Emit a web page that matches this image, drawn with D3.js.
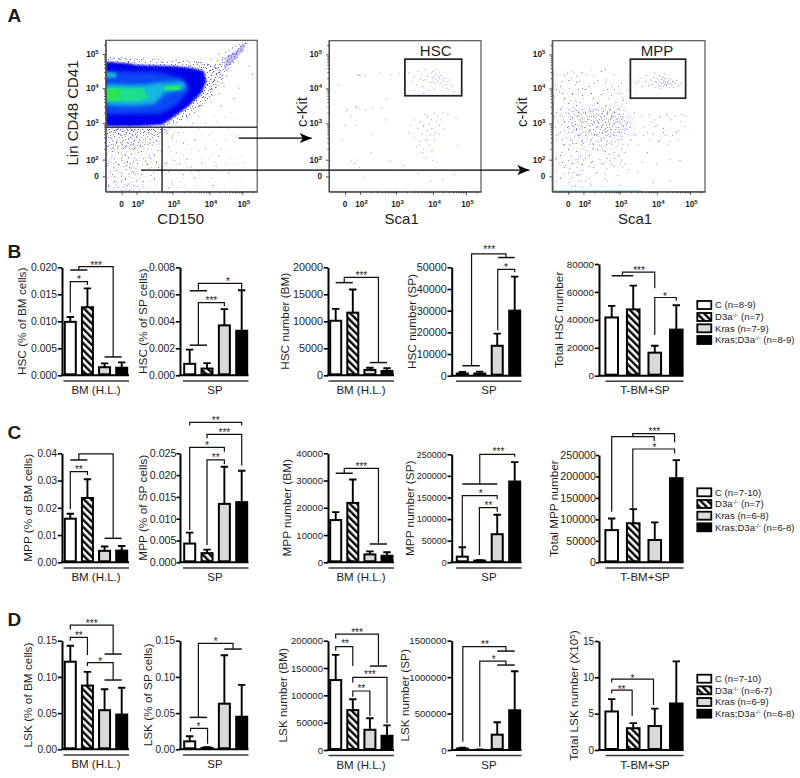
<!DOCTYPE html>
<html><head><meta charset="utf-8">
<script src="https://cdnjs.cloudflare.com/ajax/libs/d3/7.8.5/d3.min.js"></script>
<style>html,body{margin:0;background:#fff}svg{display:block}text{font-family:"Liberation Sans",Arial,sans-serif;fill:#1c1c1c}</style>
</head><body><div id="chart"></div>
<script>
// ---------- bar values (mean, upper error bar) for C, D3a-/-, Kras, Kras;D3a-/- ----------
const hscBmPct=[0.0099,0.0126,0.0015,0.0014], hscBmPctErr=[0.0108,0.0161,0.0022,0.0024];
const hscSpPct=[0.00085,0.0005,0.0037,0.0033], hscSpPctErr=[0.0019,0.0009,0.0049,0.0063];
const hscBmNum=[10100,11600,1000,800], hscBmNumErr=[12300,15900,1400,1300];
const hscSpNum=[1000,1000,13800,30000], hscSpNumErr=[1700,1900,19400,45700];
const hscTotal=[41700,47500,16500,33000], hscTotalErr=[50000,64500,21500,50500];
const mppBmPct=[0.016,0.0236,0.0042,0.0043], mppBmPctErr=[0.0178,0.0305,0.0058,0.006];
const mppSpPct=[0.0043,0.0021,0.0134,0.0138], mppSpPctErr=[0.0068,0.0029,0.0219,0.021];
const mppBmNum=[15500,21800,2900,2400], mppBmNumErr=[18400,30400,4000,3700];
const mppSpNum=[13000,4000,65000,187000], mppSpNumErr=[35000,5000,110000,232000];
const mppTotal=[75000,91000,52000,196000], mppTotalErr=[102000,124000,93000,238000];
const lskBmPct=[0.121,0.088,0.054,0.048], lskBmPctErr=[0.143,0.107,0.083,0.085];
const lskSpPct=[0.011,0.002,0.063,0.045], lskSpPctErr=[0.018,0.003,0.13,0.089];
const lskBmNum=[128000,73000,37000,26000], lskBmNumErr=[174000,93000,58000,45000];
const lskSpNum=[20000,5000,210000,545000], lskSpNumErr=[30000,8000,380000,1080000];
const lskTotal=[5.3,3.0,3.3,6.4], lskTotalErr=[7.0,3.7,5.7,12.2];

// ---------- tick labels ----------
const ticksHscBmPct=[0,0.005,0.01,0.015,0.02], ticksHscSpPct=[0,0.002,0.004,0.006,0.008];
const ticksHscBmNum=[0,5000,10000,15000,20000], ticksHscSpNum=[0,10000,20000,30000,40000,50000];
const ticksHscTotal=[0,20000,40000,60000,80000];
const ticksMppBmPct=[0,0.01,0.02,0.03,0.04], ticksMppSpPct=[0,0.005,0.01,0.015,0.02,0.025];
const ticksMppBmNum=[0,10000,20000,30000,40000], ticksMppSpNum=[0,50000,100000,150000,200000,250000];
const ticksMppTotal=[0,50000,100000,150000,200000,250000];
const ticksLskPct=[0,0.05,0.1,0.15], ticksLskBmNum=[0,50000,100000,150000,200000];
const ticksLskSpNum=[0,500000,1000000,1500000], ticksLskTotal=[0,5,10,15];

// ---------- legends ----------
const legendB=["C (n=8-9)","D3a^{-/-} (n=7)","Kras (n=7-9)","Kras;D3a^{-/-} (n=8-9)"];
const legendC=["C (n=7-10)","D3a^{-/-} (n=7)","Kras (n=6-8)","Kras;D3a^{-/-} (n=6-8)"];
const legendD=["C (n=7-10)","D3a^{-/-} (n=6-7)","Kras (n=6-9)","Kras;D3a^{-/-} (n=6-8)"];

// ---------- significance brackets: polylines as [bar slot, fraction of axis height] ----------
const linesB1=[[[0,.58],[0,.867],[1,.867],[1,.836]],[[0,.975],[1,.975]],[[.5,.975],[.5,1.006],[2.5,1.006],[2.5,.17]],[[2,.17],[3,.17]]];
const starsB1=[["*",.5,.907],["***",1.5,1.037]];
const linesB2=[[[0,.783],[1,.783]],[[.5,.783],[.5,.851],[3,.851],[3,.79]],[[0,.279],[1,.279]],[[.5,.279],[.5,.672],[2,.672],[2,.64]]];
const starsB2=[["*",2.2,.892],["***",1.25,.712]];
const linesB3=[[[0,.858],[1,.858]],[[.5,.858],[.5,.907],[2.5,.907],[2.5,.118]],[[2,.118],[3,.118]]];
const starsB3=[["***",1.5,.944]];
const linesB4=[[[0,.092],[1,.092]],[[.53,.092],[.53,1.123],[2.5,1.123],[2.5,1.09]],[[2.05,1.09],[3,1.09]],[[2.03,.42],[2.03,.98],[3,.98],[3,.954]]];
const starsB4=[["***",1.54,1.185],["*",2.5,1.02]];
const linesB5=[[[0,.895],[1,.895]],[[.5,.895],[.5,.928],[2,.928],[2,.782]],[[2,.364],[2,.7],[3,.7],[3,.672]]];
const starsB5=[["***",1.27,.961],["*",2.47,.728]];
const linesC1=[[[0,.489],[0,.832],[1,.832],[1,.8]],[[0,.939],[1,.939]],[[.5,.939],[.5,.994],[2.5,.994],[2.5,.22]],[[2,.22],[3,.22]]];
const starsC1=[["**",.5,.875]];
const linesC2=[[[0,1.254],[0,1.284],[3,1.284],[3,1.254]],[[1,1.138],[1,1.174],[3,1.174],[3,.887]],[[0,.297],[0,1.055],[2,1.055],[2,1.015]],[[1,.159],[1,.939],[2,.939],[2,.9]]];
const starsC2=[["**",1.5,1.32],["***",2,1.21],["*",1,1.09],["**",1.5,.979]];
const linesC3=[[[0,.817],[1,.817]],[[.5,.817],[.5,.862],[2.5,.862],[2.5,.168]],[[2,.168],[3,.168]]];
const starsC3=[["***",1.5,.9]];
const linesC4=[[[0,.725],[2,.725]],[[1,.725],[1,1],[3,1],[3,.978]],[[0,.145],[0,.617],[2,.617],[2,.583]],[[.98,.068],[.98,.506],[2,.506],[2,.469]]];
const starsC4=[["***",2.07,1.046],["*",1.05,.654],["**",1.5,.543]];
const linesC5=[[[0,.472],[0,1.171],[1.97,1.171],[1.97,1.13]],[[.98,1.171],[.98,1.2],[2.92,1.2],[2.92,1.118]],[[.98,.503],[.98,1.056],[2.92,1.056],[2.92,1.015]]];
const starsC5=[["***",1.98,1.24],["*",1.98,1.09]];
const linesD1=[[[0,1.104],[0,1.144],[2.5,1.144],[2.5,.877]],[[2,.877],[3,.877]],[[0,1],[0,1.03],[1,1.03],[1,.868]],[[1,.767],[1,.798],[2.5,.798],[2.5,.638]],[[2,.638],[3,.638]]];
const starsD1=[["***",1.25,1.18],["**",.5,1.067],["*",1.75,.831]];
const linesD2=[[[0,.294],[1,.294]],[[.5,.294],[.5,.975],[2.5,.975],[2.5,.923]],[[2,.923],[3,.923]],[[.05,.163],[.05,.193],[1.03,.193],[1.03,.05]]];
const starsD2=[["*",1.5,1.012],["*",.5,.233]];
const linesD3=[[[0,1.02],[0,1.06],[2.5,1.06],[2.5,.768]],[[2,.768],[3,.768]],[[0,.908],[0,.945],[1,.945],[1,.768]],[[1,.616],[1,.665],[3,.665],[3,.244]],[[1,.488],[1,.54],[2,.54],[2,.311]]];
const starsD3=[["***",1.25,1.097],["**",.55,.997],["***",2,.707],["**",1.5,.579]];
const linesD4=[[[.03,.076],[.03,.945],[2.5,.945],[2.5,.905]],[[2,.905],[3,.905]],[[1,.03],[1,.814],[2.5,.814],[2.5,.777]],[[2,.777],[3,.777]]];
const starsD4=[["**",1.3,.985],["*",1.8,.848]];
const linesD5=[[[0,.52],[0,.55],[.95,.55],[.95,.312]],[[0,.62],[0,.651],[1.94,.651],[1.94,.413]]];
const starsD5=[["**",.46,.575],["*",.96,.679]];

// ---------- flow cytometry events: [Sca1/CD150 decade, c-Kit/Lin decade] ----------
const gateDots=[[-.9,2.7],[-.7,2.6],[-.5,2.75],[-.3,2.5],[-.1,2.7],[.1,2.6],[.3,2.78],[.5,2.55],[.7,2.7],[.9,2.45],[1.1,2.72],[1.3,2.6],[1.5,2.8],[1.7,2.5],[1.9,2.7],[2.1,2.78],[2.2,2.55],[2.35,2.7],[2.5,2.8],[2.6,2.62],[-.85,2.82],[-.6,2.85],[-.35,2.8],[-.2,2.85],[.2,2.84],[.45,2.8],[.65,2.85],[.85,2.8],[1.2,2.84],[1.4,2.7],[1.6,2.65],[1.8,2.82],[2,2.6],[2.3,2.83],[-.8,2.4],[-.55,2.3],[-.25,2.35],[0,2.45],[.25,2.3],[.6,2.35],[1,2.3],[1.35,2.4],[1.75,2.3],[2.1,2.4],[2.45,2.4],[2.7,2.5],[2.85,2.72],[3,2.6],[3.15,2.75],
[-.9,2.15],[-.6,2.1],[-.2,2.2],[.15,2.1],[.5,2.15],[.9,2.05],[1.3,2.15],[1.7,2.05],[2.05,2.2],[2.35,2.1],[2.6,2.25],[2.9,2.35],[3.1,2.2],[3.3,2.45],[3.6,2.55],[3.9,2.3],[4.3,2.1],[-.8,1.8],[-.4,1.7],[0,1.85],[.4,1.6],[.8,1.75],[1.2,1.5],[1.6,1.8],[1.95,1.95],[2.25,1.85],[2.55,1.7],[3.05,1.9],[3.4,2],[3.8,1.6],[-.9,1.3],[-.5,1.1],[-.15,1.4],[.3,1.2],[.7,1.3],[1.1,1],[1.5,1.2],[1.9,.9],[2.3,1.4],[2.6,.8],[3.2,1.5],[3.5,1.1],[4.2,1.3],[-.7,.5],[-.3,.7],[.1,.4],[.55,.8],[1,.3],[1.4,.6],[1.8,.2],[2.4,.1],[2.9,.5],[3.3,.2],[3.7,.6],[4.6,.4],[-.85,-.1],[-.45,0],[0,.05],[.5,-.2],[1.25,-.1],[2,-.3],[2.5,-.2],[3,-.5],[3.6,-.1],[-.8,-.6],[-.3,-.5],[.3,-.7],[.9,-.5],[1.6,-.6],[2.2,-.7],[2.9,-.75],[4.1,-.6],
[-.95,-.97],[-.85,-.97],[-.75,-.98],[-.65,-.96],[-.55,-.97],[-.45,-.98],[-.35,-.95],[-.25,-.98],[-.15,-.97],[-.05,-.96],[.05,-.98],[.15,-.95],[.3,-.97],[.45,-.98],[.6,-.96],[.8,-.97],[1,-.98],[1.2,-.96],[1.5,-.97],[1.8,-.98],[2.1,-.96],[2.5,-.97],[3.1,-.98],
[-.98,-.7],[-.98,-.4],[-.98,-.1],[-.98,.3],[-.98,.7],[-.98,1.1],[-.98,1.5],[-.98,1.9],[-.98,2.3],[3.55,3.0],[3.7,3.2],[4.05,3.6],[4.3,3.85],[4.45,4.05],[5.2,4.65],[3.9,3],[4.35,3.5]];
const tailDots=[[3.95,4.7],[4.05,4.85],[4.2,4.6],[4.1,4.45],[4,4.2],[4.15,4.25],[4.25,4.8],[4.3,5],[4.35,4.7],[4.4,4.9],[4.5,5.05],[4.55,4.8],[4.6,5.1],[4.7,5.2],[4.75,5],[4.8,5.25],[4.85,5.1],[4.9,5.3],[4.95,5.15],[5,5.3],[5.05,5.25],[5.1,5.35],[4.65,4.95],[4.45,4.75],[4.3,4.5],[4.2,4.1],[4.1,3.95],[3.95,3.85],[3.85,3.75],[4.05,4.05],[3.75,3.5],[3.6,3.3],[3.4,3.15],[3.9,4.6],[4.25,4.35],[4.15,4.65],[4.35,4.4],[4.5,4.55],[4.4,4.15],[4.75,3.7],[4.9,4.0],[5.3,4.4],[3.7,4.75],[3.4,4.8],[3.1,4.82],[2.6,4.85],[2.2,4.88],[1.7,4.82],[1.1,4.85],[.6,4.83],[0,4.9],[-.6,4.85],[3.8,4.7],[4.6,4.7],[4.7,4.8],[5,5.1],[4.85,4.9],[4.52,4.35]];
const hscDots=[[3.35,4.45],[3.45,4.2],[3.5,4.35],[3.55,4.1],[3.6,4.5],[3.65,4.28],[3.7,4.4],[3.72,4.05],[3.78,4.25],[3.8,4.55],[3.85,4.35],[3.88,3.95],[3.9,4.18],[3.95,4.45],[3.98,4.3],[4,4.2],[4,4.5],[4.03,4.35],[4.06,4.15],[4.08,4.28],[4.1,4.42],[4.12,4.55],[4.14,4.22],[4.17,4.35],[4.2,4.3],[4.2,4.48],[4.22,4.15],[4.25,4.38],[4.28,4.25],[4.3,4.05],[4.33,4.2],[4.36,4.3],[4.4,4.12],[4.42,4.0],[4.45,4.2],[4.48,3.95],[4.52,4.25],[4.55,4.1],[4.6,4.05],[4.65,3.9],[3.5,3.95],[4.05,3.98],[3.75,3.85],
[1.7,4.4],[1.85,4.38],[2,4.4],[2.15,4.37],[2.55,4.45],[2.85,4.4],[3.1,4.42],[-.4,4.1],[2.75,3.7],[.1,3.35],[.3,3.4],[1.4,3.45],[1.6,3.48],[1.85,3.42],[2.15,3.38],[2.35,3.42],[2.6,3.45],[.85,3.2],[1.45,2.95],[.0,2.95],[2.35,2.7],[2.7,3.1],[4.45,3.25],[4.7,3.15],
[3.35,2.75],[3.4,2.95],[3.5,2.6],[3.5,3.1],[3.55,2.35],[3.6,2.85],[3.65,3.05],[3.65,2.5],[3.7,2.7],[3.72,2.2],[3.75,2.95],[3.78,3.25],[3.8,2.55],[3.82,2.05],[3.85,2.8],[3.85,3.2],[3.9,2.4],[3.9,2.98],[3.93,2.68],[3.96,3.1],[3.98,2.25],[4,2.85],[4,1.95],[4.03,3.28],[4.05,2.55],[4.07,2.75],[4.1,3.05],[4.12,1.75],[4.14,3.22],[4.18,2.7],[4.2,2.95],[4.25,3.1],[4.3,3.3],[4.33,2.85],
[-.2,2.55],[.8,1.85],[1.25,1.55],[1.6,1.95],[2.3,2.2],[2.85,1.8],[3.2,1.3],[4.75,2.4],[1.9,1.1],[3.6,.35],[4.3,-.2],[3.95,-.3],[3,.7],[4.65,.2],[2.1,-.1],
[2.5,-.95],[2.7,-.97],[3,-.96],[3.3,-.97],[3.5,-.95],[3.65,-.97],[3.8,-.96],[3.95,-.97],[4.05,-.96],[4.2,-.97],[4.4,-.96],[4.7,-.97],[-.98,3.1],[-.98,3.3],[-.98,3.55],[-.98,3.8],[-.98,2.9],[-.98,4.1]];
const mppDots=[[3.45,4.15],[3.55,4.3],[3.6,4.05],[3.7,4.2],[3.72,4.38],[3.78,4.08],[3.85,4.25],[3.88,4.12],[3.92,4.32],[3.95,4.02],[4,4.18],[4.02,4.28],[4.05,4.1],[4.08,4.36],[4.1,4.2],[4.12,4],[4.14,4.26],[4.15,4.14],[4.18,4.32],[4.2,4.18],[4.2,4.06],[4.22,4.24],[4.24,4.12],[4.26,4.18],[4.28,4.3],[4.3,4.08],[4.32,4.2],[4.34,4.14],[4.36,4.24],[4.38,4.02],[4.4,4.16],[4.42,4.28],[4.45,4.1],[4.48,4.2],[4.5,4.02],[4.55,4.16],[4.6,4.24],[4.65,4.08],[4.72,4.15],[3.5,4.2],[3.95,4.45],[4.25,4.42],
[2,3.3],[2.05,3.05],[2.1,3.2],[2.15,2.8],[2.2,3.35],[2.22,3],[2.28,3.18],[2.3,2.7],[2.35,3.4],[2.38,3.08],[2.4,2.9],[2.42,3.25],[2.48,2.6],[2.5,3.12],[2.52,2.95],[2.55,3.35],[2.58,3.2],[2.6,2.78],[2.62,3.02],[2.65,2.5],[2.66,3.28],[2.7,3.1],[2.72,2.88],[2.75,3.4],[2.76,2.65],[2.8,3.18],[2.82,3],[2.85,2.75],[2.86,3.3],[2.9,2.9],[2.92,3.12],[2.95,2.55],[2.96,3.05],[3,2.82],[3,3.25],[3.05,2.98],[3.08,2.65],[3.1,3.15],[3.15,2.85],[3.2,3.02],[3.22,2.4],[1.8,3.15],[1.82,2.9],[1.85,3.4],[1.9,3.05],[1.95,2.75],[1.7,3.25],[1.72,2.95],[1.6,3.1],[1.62,2.7],[1.5,3.3],[1.55,2.85],
[2.45,2.4],[2.55,2.25],[2.62,2.38],[2.7,2.15],[2.78,2.42],[2.85,2.2],[2.9,2.35],[3,2.1],[3.05,2.3],[3.15,2.2],[2.25,2.3],[2.2,2.5],[2.1,2.25],[2,2.45],[1.9,2.3],[1.85,2.55],[1.75,2.4],[3.3,2.55],[3.3,2.9],[3.4,2.7],
[-.85,3.2],[-.8,2.9],[-.7,3.4],[-.65,3.05],[-.6,2.7],[-.5,3.25],[-.45,2.95],[-.4,3.45],[-.3,3.1],[-.25,2.8],[-.15,3.3],[-.1,2.6],[0,3.05],[.05,3.4],[.1,2.85],[.2,3.2],[.25,2.55],[.35,3.35],[.4,3],[.45,2.75],[.55,3.15],[.65,3.45],[.7,2.9],[.8,3.25],[.85,2.65],[.95,3.05],[1,3.4],[1.05,2.8],[1.15,3.2],[1.2,2.95],[1.3,3.35],[1.35,2.6],[1.4,3.1],[-.75,2.55],[-.3,2.4],[.15,2.4],[.6,2.45],[1.1,2.45],
[-.7,4.4],[-.55,3.9],[-.4,4.2],[-.2,3.7],[-.05,4.45],[.1,4],[.25,3.65],[.4,4.3],[.55,3.85],[.75,4.45],[.9,4.1],[1,3.65],[1.15,4.35],[1.3,3.9],[1.45,4.2],[1.6,3.6],[1.7,4.45],[1.85,4],[1.95,3.7],[2.1,4.4],[2.2,3.85],[2.3,4.15],[2.4,3.6],[2.5,4.5],[2.55,3.95],[2.65,4.25],[2.7,3.7],[2.8,4.05],[2.85,4.4],[2.9,3.6],[2.95,3.85],[3.05,4.15],[3.1,3.65],[3.2,3.95],[3.25,4.4],[2.6,4.55],[-.85,3.75],[-.8,4.1],
[-.8,2],[-.6,1.6],[-.4,2.2],[-.2,1.3],[0,1.9],[.2,.9],[.4,2.1],[.6,1.5],[.8,.5],[1,2],[1.15,1.1],[1.3,1.7],[1.45,.2],[1.6,2.1],[1.75,1.4],[1.9,.7],[2,1.95],[2.15,1.2],[2.25,1.75],[2.35,.4],[2.45,2],[2.55,1.5],[2.65,.9],[2.75,1.85],[2.85,1.2],[2.95,.1],[3.05,1.95],[3.15,1.5],[3.25,.8],[-.7,.6],[-.5,-.1],[-.25,.3],[.1,-.4],[.5,-.1],[.95,-.6],[1.25,.1],[1.7,-.3],[2.2,-.5],[2.6,-.2],[3,-.6],[3.5,.5],[3.9,-.4],[4.4,-.3],
[3.4,3.3],[3.5,2.4],[3.6,3.2],[3.65,2.9],[3.75,2.2],[3.8,3.25],[3.9,2.7],[3.95,3.1],[4,2.95],[4.05,2.5],[4.1,3.2],[4.2,2.75],[4.3,3.25],[4.35,2.4],[4.45,3.1],[4.55,3.22],[4.65,2.8],[4.75,3.25],[4.85,3.2],[3.6,1.7],[4,1.5],[4.4,2],[4.7,1.9]];

// ---------- density regions of the flow plots: outlines in decades ----------
const cloudGate=[[-1,4.78],[1,4.72],[2,4.68],[3,4.65],[3.5,4.6],[3.85,4.5],[3.92,4.2],[3.8,3.88],[3.45,3.5],[3,3.15],[2.7,2.96],[2,2.92],[-1,2.92]];
const cloudTail=[[3.85,4.6],[4.2,4.75],[4.6,5.02],[5,5.3],[5.2,5.42],[5,5.1],[4.65,4.6],[4.4,4.2],[4.1,3.9],[3.8,3.85]];
const cloudTailCore=[[4.5,4.9],[4.8,5.1],[5.1,5.38],[5.05,5.15],[4.7,4.75],[4.45,4.55]];
const cloudFringe=[[-1,4.92],[2,4.86],[3.4,4.8],[4,4.75],[4.3,4.3],[4.1,3.78],[3.6,3.3],[3,2.95],[2.7,2.78],[1,2.7],[-1,2.7]];
const cloudMid=[[-1,4.5],[2.6,4.47],[3.25,4.3],[3.45,3.95],[3.15,3.55],[2.7,3.28],[-1,3.25]];
const cloudCyanTop=[[-1,4.48],[-.3,4.45],[-.35,4.3],[-1,4.28]];
const cloudCyan=[[-1,4.12],[.8,4.1],[2.2,4.1],[2.6,4.16],[3.3,4.2],[3.4,3.98],[2.8,3.86],[2.5,3.55],[2,3.5],[-1,3.52]];
const cloudGreen=[[-1,4.02],[.8,4.0],[2.2,4],[2.32,3.72],[1.8,3.62],[-1,3.64]];
const cloudGreenSpot=[[2.78,4.06],[3.2,4.08],[3.22,3.95],[2.8,3.93]];
const cloudLime=[[-1,3.96],[-.15,3.95],[-.1,3.68],[-1,3.68]];
const belowGateBand=[[-1,2.9],[2.95,2.9],[2.6,2.45],[1.5,2.3],[-1,2.3]];
const belowGateArea=[[-1,2.4],[2.7,2.4],[3,1.5],[2.4,0],[2,-1],[-1,-1]];
const farRightArea=[[2.7,2.9],[4.8,3.4],[5.2,1.5],[4.8,-1],[2,-1]];
// stippled haze: [centre in decades, radii in decades, stipple tile]
const hazeMpp=[[[2.65,3.0],[.85,.62],2],[[2.4,2.9],[1.1,.8],1],[[.4,3.05],[1.45,.45],1],[[1.5,3.9],[2.2,.8],0],[[1.4,1.5],[2.2,1.3],0],[[1.0,3],[2.6,1.6],0],[[4.15,4.17],[.5,.17],1],[[4.2,2.8],[.95,.5],0]];
const hazeHsc=[[[3.95,4.25],[.55,.24],0],[[3.85,2.65],[.38,.65],0]];
// repeating dot tiles for the stipple: tile size, then dots
const tileSparse=[29,23,[[2,3],[9,17],[13,6],[21,2],[25,13],[5,20],[17,11],[27,20],[11,1]]];
const tileMid=[17,19,[[1,2],[6,13],[9,5],[14,10],[3,8],[12,16],[16,1],[7,18],[11,11],[15,15]]];
const tileDense=[11,13,[[1,1],[4,6],[8,3],[2,10],[7,9],[10,12],[5,2],[9,7],[0,5],[6,12],[3,4]]];
// gates and axis ticks of the flow plots
const flowTicks=[0,2,3,4,5];
const hscGate=[3.24,4.87,3.79,4.86], mppGate=[3.29,4.87,3.72,4.86];
const lineageCut=2.89, cd150Cut=2.71;
const upperArrow=[4.89,2.59], lowerArrow=[2.12,.75];

// ---------- layout (positions, sizes, styles) ----------
const W=800,H=778;
const svg=d3.select("#chart").append("svg").attr("width",W).attr("height",H).attr("viewBox",[0,0,W,H]);
const defs=svg.append("defs");
const hp=defs.append("pattern").attr("id","hatch").attr("patternUnits","userSpaceOnUse").attr("width",5).attr("height",5).attr("patternTransform","rotate(-45)");
hp.append("rect").attr("width",5).attr("height",5).attr("fill","#fff");
hp.append("rect").attr("width",2.4).attr("height",5).attr("fill","#000");
[["b2",2.2],["b1",.9],["b05",.5]].forEach(([id,s])=>defs.append("filter").attr("id",id).attr("x","-20%").attr("y","-20%").attr("width","140%").attr("height","140%").append("feGaussianBlur").attr("stdDeviation",s));
[tileSparse,tileMid,tileDense].forEach(([w,h,pts],i)=>{
  const p=defs.append("pattern").attr("id","st"+i).attr("patternUnits","userSpaceOnUse").attr("width",w).attr("height",h);
  p.selectAll("rect").data(pts).join("rect").attr("x",d=>d[0]).attr("y",d=>d[1]).attr("width",1).attr("height",1).attr("fill","#4c4ce8");
});
const fade=defs.append("radialGradient").attr("id","fade");
[[0,1],[.65,.85],[1,0]].forEach(([o,a])=>fade.append("stop").attr("offset",o).attr("stop-color","#fff").attr("stop-opacity",a));

function rich(sel,str,supSize){
  let nextDy=null;
  str.split(/(\^\{[^}]*\})/).forEach(tok=>{
    if(tok.startsWith("^{")) { sel.append("tspan").attr("dy",-3).attr("font-size",supSize).text(tok.slice(2,-1)); nextDy=3; }
    else if(tok){ const t=sel.append("tspan").text(tok); if(nextDy){t.attr("dy",nextDy);nextDy=null;} }
  });
}
const fills=["#fff","url(#hatch)","#d9d9d9","#000"];

const colX=[{ax:62,c0:70.3,c3:121.7,bw:11,ulL:63.5,ulR:129,lab:96},{ax:180,c0:189.7,c3:241.7,bw:11,ulL:183,ulR:248.5,lab:215},{ax:328,c0:335.7,c3:387,bw:11,ulL:328.5,ulR:394,lab:361},{ax:451.7,c0:462.3,c3:514.7,bw:11,ulL:456,ulR:521.5,lab:489},{ax:599,c0:611.7,c3:676.3,bw:12.6,ulL:605.5,ulR:683.5,lab:645}];
const charts=[
 {col:0,top:267.3,bot:375.3,v:hscBmPct,e:hscBmPctErr,t:ticksHscBmPct,f:".3f",fs:10.4,lx:21.7,y:"HSC (% of BM cells)",x:"BM (H.L.)",l:linesB1,s:starsB1},
 {col:1,top:267.3,bot:375.3,v:hscSpPct,e:hscSpPctErr,t:ticksHscSpPct,f:".3f",fs:10.4,lx:142.7,y:"HSC (% of SP cells)",x:"SP",l:linesB2,s:starsB2},
 {col:2,top:267.3,bot:375.3,v:hscBmNum,e:hscBmNumErr,t:ticksHscBmNum,f:"d",fs:10.8,lx:285,y:"HSC number  (BM)",x:"BM (H.L.)",l:linesB3,s:starsB3},
 {col:3,top:267.3,bot:375.7,v:hscSpNum,e:hscSpNumErr,t:ticksHscSpNum,f:"d",fs:10.8,lx:411.7,y:"HSC number (SP)",x:"SP",l:linesB4,s:starsB4},
 {col:4,top:264,bot:375.7,v:hscTotal,e:hscTotalErr,t:ticksHscTotal,f:"d",fs:9.8,lx:558.5,y:"Total HSC number",x:"T-BM+SP",l:linesB5,s:starsB5},
 {col:0,top:453.3,bot:562.3,v:mppBmPct,e:mppBmPctErr,t:ticksMppBmPct,f:".2f",fs:10,lx:28.3,y:"MPP (% of BM cells)",x:"BM (H.L.)",l:linesC1,s:starsC1},
 {col:1,top:453.3,bot:562.3,v:mppSpPct,e:mppSpPctErr,t:ticksMppSpPct,f:".3f",fs:10.7,lx:143,ts:3.5,tp:0,y:"MPP (% of SP cells)",x:"SP",l:linesC2,s:starsC2},
 {col:2,top:453.3,bot:562.3,v:mppBmNum,e:mppBmNumErr,t:ticksMppBmNum,f:"d",fs:9.6,lx:287,y:"MPP number  (BM)",x:"BM (H.L.)",l:linesC3,s:starsC3},
 {col:3,top:454.3,bot:562.3,v:mppSpNum,e:mppSpNumErr,t:ticksMppSpNum,f:"d",fs:9,lx:410,y:"MPP number (SP)",x:"SP",l:linesC4,s:starsC4},
 {col:4,top:455,bot:562.3,v:mppTotal,e:mppTotalErr,t:ticksMppTotal,f:"d",fs:10.7,lx:553.5,ts:3,tp:0,y:"Total MPP number",x:"T-BM+SP",l:linesC5,s:starsC5},
 {col:0,top:640.7,bot:749.3,v:lskBmPct,e:lskBmPctErr,t:ticksLskPct,f:".2f",fs:10,lx:28,y:"LSK (% of BM cells)",x:"BM (H.L.)",l:linesD1,s:starsD1},
 {col:1,top:640.7,bot:749.3,v:lskSpPct,e:lskSpPctErr,t:ticksLskPct,f:".2f",fs:10,lx:147.7,y:"LSK (% of SP cells)",x:"SP",l:linesD2,s:starsD2},
 {col:2,top:640.7,bot:750,v:lskBmNum,e:lskBmNumErr,t:ticksLskBmNum,f:"d",fs:9.6,lx:282.7,y:"LSK number  (BM)",x:"BM (H.L.)",l:linesD3,s:starsD3},
 {col:3,top:640.7,bot:750,v:lskSpNum,e:lskSpNumErr,t:ticksLskSpNum,f:"d",fs:9.6,lx:405,y:"LSK number (SP)",x:"SP",l:linesD4,s:starsD4},
 {col:4,top:641,bot:750,v:lskTotal,e:lskTotalErr,t:ticksLskTotal,f:"d",fs:10,lx:574,y:"Total LSK number (X10^{5})",x:"T-BM+SP",l:linesD5,s:starsD5},
];

charts.forEach(c=>{
  const k=colX[c.col], g=svg.append("g");
  const yDom=c.t[c.t.length-1];
  const y=d3.scaleLinear().domain([0,yDom]).range([c.bot,c.top]);
  const slot=d3.scaleLinear().domain([0,3]).range([k.c0,k.c3]);
  const lev=d3.scaleLinear().domain([0,1]).range([c.bot,c.top]);
  g.selectAll(".bar").data(c.v).join("rect").attr("x",(d,i)=>slot(i)-k.bw/2).attr("width",k.bw).attr("y",d=>y(d)).attr("height",d=>Math.max(0,c.bot-y(d)-1))
    .attr("fill",(d,i)=>fills[i]).attr("stroke","#000").attr("stroke-width",2);
  g.selectAll(".err").data(c.e).join("path").attr("fill","none").attr("stroke","#000").attr("stroke-width",1.9)
    .attr("d",(d,i)=>`M${slot(i)},${y(c.v[i])}V${y(d)}M${slot(i)-3.7},${y(d)}H${slot(i)+3.7}`);
  const ax=g.append("g").attr("transform",`translate(${k.ax},0)`).call(d3.axisLeft(y).tickValues(c.t).tickFormat(d3.format(c.f)).tickSize(c.ts||4.2).tickSizeOuter(0).tickPadding(c.tp===0?0:.8));
  ax.select(".domain").attr("stroke-width",2).attr("stroke","#000");
  ax.selectAll(".tick line").attr("stroke-width",1.6).attr("stroke","#000");
  ax.selectAll(".tick text").attr("font-size",c.fs).attr("fill","#222");
  ax.attr("font-family",null);
  g.append("line").attr("x1",k.ax-1).attr("x2",k.ulR).attr("y1",c.bot).attr("y2",c.bot).attr("stroke","#000").attr("stroke-width",2);
  g.append("line").attr("x1",k.ulL).attr("x2",k.ulR).attr("y1",c.bot+5.6).attr("y2",c.bot+5.6).attr("stroke","#3a3a3a").attr("stroke-width",1.5);
  g.append("text").attr("x",k.lab).attr("y",c.bot+18.5).attr("text-anchor","middle").attr("font-size",11.5).text(c.x);
  const ylab=g.append("text").attr("transform",`translate(${c.lx},${(c.top+c.bot)/2}) rotate(-90)`).attr("text-anchor","middle").attr("font-size",11.8).attr("dy","0.35em");
  rich(ylab,c.y,8);
  const ln=d3.line().x(p=>slot(p[0])).y(p=>lev(p[1]));
  g.selectAll(".br").data(c.l).join("path").attr("fill","none").attr("stroke","#111").attr("stroke-width",p=>p.length===2?1.5:1.2).attr("d",ln);
  g.selectAll(".st").data(c.s).join("text").attr("x",s=>slot(s[1])).attr("y",s=>lev(s[2])+5.6).attr("text-anchor","middle").attr("font-size",10).text(s=>s[0]);
});

// legends
[[legendB,[305,317,328.3,340]],[legendC,[492.3,504,515.7,527.3]],[legendD,[678.7,690.3,702,713.7]]].forEach(([labels,ys])=>{
  labels.forEach((t,i)=>{
    svg.append("rect").attr("x",697.3).attr("y",ys[i]-4).attr("width",14).attr("height",8).attr("fill",fills[i]).attr("stroke","#000").attr("stroke-width",1.8);
    const tx=svg.append("text").attr("x",715).attr("y",ys[i]+3.4).attr("font-size",9.6).attr("fill","#333");
    rich(tx,t,6);
  });
});

// panel letters
[["A",21.7],["B",257.7],["C",439],["D",625.7]].forEach(([t,y])=>svg.append("text").attr("x",7.5).attr("y",y).attr("font-size",19).attr("font-weight","bold").text(t));

// flow plots
function flowScales(x0,x1,y0,y1){
  const w=x1-x0,h=y1-y0;
  const fx=[0,16,31,67,104,137,152].map(p=>x0+p*w/152);
  const fy=[0,13.7,47.7,82.7,119,135.7,151].map(p=>y0+p*h/151);
  return {x:d3.scaleLinear().domain([-1,0,2,3,4,5,5.43]).range(fx),y:d3.scaleLinear().domain([5.44,5,4,3,2,0,-1]).range(fy)};
}
function flowPlot(x0,x1,y0,y1,id){
  const s=flowScales(x0,x1,y0,y1), g=svg.append("g");
  defs.append("clipPath").attr("id",id).append("rect").attr("x",x0).attr("y",y0).attr("width",x1-x0).attr("height",y1-y0);
  const body=g.append("g").attr("clip-path",`url(#${id})`);
  const minor=[];
  [2,3,4,5].forEach(dec=>d3.range(2,10).forEach(m=>{const v=dec+Math.log10(m);if(v<5.43)minor.push(v);}));
  const sup=d=>d===0?"0":"10^{"+d+"}";
  g.append("g").attr("transform",`translate(${x0},0)`).call(d3.axisLeft(s.y).tickValues(flowTicks).tickSize(3).tickSizeOuter(0));
  g.append("g").attr("transform",`translate(0,${y1})`).call(d3.axisBottom(s.x).tickValues(flowTicks).tickSize(3).tickSizeOuter(0));
  g.append("g").attr("transform",`translate(${x0},0)`).call(d3.axisLeft(s.y).tickValues(minor).tickSize(1.6)).select(".domain").remove();
  g.append("g").attr("transform",`translate(0,${y1})`).call(d3.axisBottom(s.x).tickValues(minor).tickSize(1.6)).select(".domain").remove();
  g.selectAll(".tick text").remove();
  g.selectAll(".domain").attr("stroke","#444");
  g.selectAll(".tick line").attr("stroke","#222").attr("stroke-width",.8);
  flowTicks.forEach(d=>{
    const a=g.append("text").attr("x",x0-7).attr("y",s.y(d)+3).attr("text-anchor","end").attr("font-size",8.2).attr("font-weight","bold").attr("fill","#333");
    rich(a,sup(d),6);
    const b=g.append("text").attr("x",s.x(d)+(d?1.5:0)).attr("y",y1+14.8).attr("text-anchor","middle").attr("font-size",8.2).attr("font-weight","bold").attr("fill","#333");
    rich(b,sup(d),6);
  });
  g.append("rect").attr("x",x0).attr("y",y0).attr("width",x1-x0).attr("height",y1-y0).attr("fill","none").attr("stroke","#555").attr("stroke-width",1.2);
  return {s,body,g};
}
const poly=d3.line();
function region(p,pts,fill,op,blur){
  const d=poly(pts.map(q=>[p.s.x(q[0]),p.s.y(q[1])]))+"Z";
  p.body.append("path").attr("d",d).attr("fill",fill).attr("opacity",op).attr("filter",blur?`url(#${blur})`:null);
}
function dots(p,arr,col,op){
  p.body.append("g").selectAll("rect").data(arr).join("rect").attr("x",d=>p.s.x(d[0])-.5).attr("y",d=>p.s.y(d[1])-.5).attr("width",1).attr("height",1).attr("fill",col).attr("opacity",op);
}
let maskId=0;
function haze(p,arr,op){
  arr.forEach(([c,r,tile])=>{
    const cx=p.s.x(c[0]),cy=p.s.y(c[1]);
    const rx=Math.abs(p.s.x(c[0]+r[0])-cx), ry=Math.abs(p.s.y(c[1]+r[1])-cy);
    const id="hz"+(maskId++);
    defs.append("mask").attr("id",id).attr("maskUnits","userSpaceOnUse").attr("x",0).attr("y",0).attr("width",W).attr("height",H)
      .append("ellipse").attr("cx",cx).attr("cy",cy).attr("rx",rx).attr("ry",ry).attr("fill","url(#fade)");
    p.body.append("rect").attr("x",cx-rx).attr("y",cy-ry).attr("width",2*rx).attr("height",2*ry).attr("fill",`url(#st${tile})`).attr("mask",`url(#${id})`).attr("opacity",op);
  });
}
// panel 1
const p1=flowPlot(105.7,257.2,40.3,191.7,"clip1");
region(p1,belowGateBand,"url(#st2)",.7);
region(p1,belowGateBand,"url(#st1)",.6);
region(p1,belowGateArea,"url(#st0)",.8);
region(p1,belowGateArea,"url(#st1)",.3);
region(p1,farRightArea,"url(#st0)",.3);
region(p1,cloudFringe,"url(#st2)",.9);
region(p1,cloudFringe,"url(#st1)",.9);
region(p1,cloudTail,"url(#st2)",.8);
region(p1,cloudTail,"url(#st1)",.8);
region(p1,cloudTailCore,"#3a3ae8",.3,"b05");
region(p1,cloudGate,"#0000ea",1,"b1");
region(p1,cloudMid,"#0a50f5",.9,"b2");
region(p1,cloudCyanTop,"#1fb8d8",.85,"b1");
region(p1,cloudCyan,"#14c0dc",.95,"b2");
region(p1,cloudGreen,"#1ee08c",1,"b1");
region(p1,cloudGreenSpot,"#22e46e",1,"b05");
region(p1,cloudLime,"#30e838",.9,"b2");
dots(p1,gateDots,"#3434d8",.7);
dots(p1,tailDots,"#3434d8",.8);
p1.g.append("path").attr("fill","none").attr("stroke","#3f3f3f").attr("stroke-width",1.6)
  .attr("d",`M${p1.s.x(-1)},${p1.s.y(lineageCut)}H${p1.s.x(5.43)}M${p1.s.x(cd150Cut)},${p1.s.y(lineageCut)}V${p1.s.y(-1)}`);
svg.append("text").attr("transform",`translate(73,113) rotate(-90)`).attr("text-anchor","middle").attr("font-size",15).attr("dy",".35em").text("Lin CD48 CD41");
svg.append("text").attr("x",180.7).attr("y",223.5).attr("text-anchor","middle").attr("font-size",15).text("CD150");

// panel 2
const p2=flowPlot(329,481,40.7,191.7,"clip2");
haze(p2,hazeHsc,.45);
dots(p2,hscDots,"#3838d8",.55);
// panel 3
const p3=flowPlot(552.3,705,40.7,191.7,"clip3");
haze(p3,hazeMpp,.6);
dots(p3,mppDots,"#3434d8",.6);
p3.body.append("path").attr("fill","none").attr("stroke","#58c858").attr("stroke-width",1.2).attr("d",`M${p3.s.x(-1)+.6},${p3.s.y(4.55)}V${p3.s.y(-1)}`);
p3.body.append("path").attr("fill","none").attr("stroke","#c88050").attr("stroke-width",1.2).attr("d",`M${p3.s.x(-1)+.6},${p3.s.y(3.65)}V${p3.s.y(2.85)}`);
p3.body.append("path").attr("fill","none").attr("stroke","#6ac8c0").attr("stroke-width",1.2).attr("d",`M${p3.s.x(-1)},${p3.s.y(-1)-.6}H${p3.s.x(3.6)}`);
[[p2,hscGate,"HSC",301.7,401.7,2.4],[p3,mppGate,"MPP",522,635,-1]].forEach(([p,gt,lab,kx,sx,off])=>{
  const [a,b,c,d]=gt;
  p.g.append("rect").attr("x",p.s.x(a)).attr("y",p.s.y(d)).attr("width",p.s.x(b)-p.s.x(a)).attr("height",p.s.y(c)-p.s.y(d)).attr("fill","none").attr("stroke","#222").attr("stroke-width",1.7);
  svg.append("text").attr("x",(p.s.x(a)+p.s.x(b))/2+off).attr("y",55.5).attr("text-anchor","middle").attr("font-size",15).text(lab);
  svg.append("text").attr("transform",`translate(${kx},112) rotate(-90)`).attr("text-anchor","middle").attr("dy",".35em").attr("font-size",15).text("c-Kit");
  svg.append("text").attr("x",sx).attr("y",223.5).attr("text-anchor","middle").attr("font-size",15).text("Sca1");
});
// arrows from the gates of panel 1 to the next plots
defs.append("marker").attr("id","arr").attr("viewBox","0 0 12 10").attr("refX",12).attr("refY",5).attr("markerWidth",12).attr("markerHeight",10).attr("markerUnits","userSpaceOnUse").attr("orient","auto")
  .append("path").attr("d","M0,0L12,5L0,10L3,5Z").attr("fill","#000");
[[upperArrow,p2.s.x(-1)-17.3],[lowerArrow,p3.s.x(-1)-23]].forEach(([a,tip])=>{
  svg.append("line").attr("x1",p1.s.x(a[0])).attr("y1",p1.s.y(a[1])).attr("x2",tip).attr("y2",p1.s.y(a[1])).attr("stroke","#000").attr("stroke-width",1.4).attr("marker-end","url(#arr)");
});
</script></body></html>
